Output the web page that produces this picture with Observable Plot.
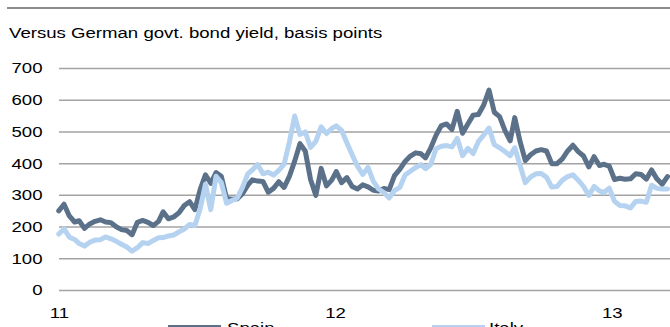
<!DOCTYPE html>
<html>
<head>
<meta charset="utf-8">
<script src="https://cdn.jsdelivr.net/npm/d3@7"></script>
<script src="https://cdn.jsdelivr.net/npm/@observablehq/plot@0.6"></script>
<style>
  html, body { margin: 0; padding: 0; background: #fff; }
  body { width: 670px; height: 327px; overflow: hidden; font-family: "Liberation Sans", Arial, sans-serif; color: #000; }
  #header { position: relative; height: 48px; }
  #rule { position: absolute; left: 7px; top: 7px; width: 663px; height: 0; border-top: 2px solid #8c8c8c; }
  #title { position: absolute; left: 9px; top: 23.6px; font-size: 15.5px; line-height: 17px; white-space: nowrap; transform: scaleX(1.2); transform-origin: 0 0; }
  #chart svg { display: block; overflow: visible; }
  #legend { position: relative; height: 20px; }
  .sw { position: absolute; top: 4.5px; height: 5px; width: 53px; }
  .lt { position: absolute; top: -1.2px; font-size: 15.5px; line-height: 17px; white-space: nowrap; transform: scaleX(1.2); transform-origin: 0 0; }
</style>
</head>
<body>
<div id="header"><div id="rule"></div><div id="title">Versus German govt. bond yield, basis points</div></div>
<div id="chart"></div>
<div id="legend"></div>
<script>
const titleText = "Versus German govt. bond yield, basis points";
const seriesNames = ["Spain", "Italy"];
const seriesColors = ["#5b7189", "#b5d3f0"];

const dates = [
  "2010-12-31","2011-01-07","2011-01-14","2011-01-21","2011-01-27","2011-02-03","2011-02-10","2011-02-17","2011-02-24","2011-03-03",
  "2011-03-10","2011-03-17","2011-03-24","2011-03-31","2011-04-07","2011-04-14","2011-04-21","2011-04-28","2011-05-05","2011-05-12",
  "2011-05-18","2011-05-25","2011-06-01","2011-06-08","2011-06-15","2011-06-22","2011-06-29","2011-07-06","2011-07-13","2011-07-20",
  "2011-07-27","2011-08-03","2011-08-10","2011-08-17","2011-08-24","2011-08-31","2011-09-07","2011-09-13","2011-09-20","2011-09-27",
  "2011-10-04","2011-10-11","2011-10-18","2011-10-25","2011-11-01","2011-11-08","2011-11-15","2011-11-22","2011-11-29","2011-12-06",
  "2011-12-13","2011-12-20","2011-12-27","2012-01-02","2012-01-09","2012-01-16","2012-01-23","2012-01-30","2012-02-06","2012-02-13",
  "2012-02-20","2012-02-27","2012-03-05","2012-03-12","2012-03-19","2012-03-26","2012-04-02","2012-04-09","2012-04-16","2012-04-23",
  "2012-04-29","2012-05-06","2012-05-13","2012-05-20","2012-05-27","2012-06-03","2012-06-10","2012-06-17","2012-06-24","2012-07-01",
  "2012-07-08","2012-07-15","2012-07-22","2012-07-29","2012-08-05","2012-08-12","2012-08-19","2012-08-25","2012-09-01","2012-09-08",
  "2012-09-15","2012-09-22","2012-09-29","2012-10-06","2012-10-13","2012-10-20","2012-10-27","2012-11-03","2012-11-10","2012-11-17",
  "2012-11-24","2012-12-01","2012-12-08","2012-12-15","2012-12-21","2012-12-28","2013-01-04","2013-01-11","2013-01-18","2013-01-25",
  "2013-02-01","2013-02-08","2013-02-15","2013-02-22","2013-03-01","2013-03-08","2013-03-15"
];

const spain = [
  251,272,235,216,220,196,210,218,223,216,
  214,201,192,189,176,215,221,215,205,218,
  248,226,232,245,268,280,255,318,365,338,
  372,360,290,288,289,305,332,349,345,344,
  310,322,343,325,360,408,463,440,350,300,
  385,330,348,375,340,356,328,320,333,327,
  316,314,322,318,362,382,407,424,434,431,
  418,450,490,520,525,508,565,496,525,553,
  555,585,632,562,548,505,472,545,470,410,
  428,440,444,440,400,400,415,440,458,438,
  424,390,422,394,398,392,350,354,351,352,
  368,366,351,380,352,335,359
];

const italy = [
  178,194,168,161,148,140,152,159,160,169,
  163,155,146,137,124,135,151,148,158,166,
  167,172,175,185,194,208,205,258,335,255,
  360,340,275,284,291,325,368,380,397,368,
  373,364,379,398,468,550,492,500,451,470,
  516,495,511,519,505,466,428,392,366,388,
  344,320,309,292,315,325,364,376,388,397,
  384,398,447,455,457,453,480,425,448,432,
  470,490,512,460,450,438,425,450,395,340,
  358,368,369,357,326,328,348,359,365,348,
  328,300,328,314,309,323,281,268,267,260,
  281,282,278,332,322,320,320
];

const yTicks = [0, 100, 200, 300, 400, 500, 600, 700];
const xTickDates = ["2011-01-01", "2012-01-01", "2013-01-01"];
const xTickLabels = ["11", "12", "13"];
const xDomain = ["2011-01-01", "2013-03-19"];

const rows = dates.map((d, i) => ({date: new Date(d), spain: spain[i], italy: italy[i]}));
const tickLabelByDate = new Map(xTickDates.map((d, i) => [d, xTickLabels[i]]));

document.getElementById("title").textContent = titleText;

const svg = Plot.plot({
  width: 670,
  height: 272,
  marginTop: 20,
  marginBottom: 30,
  marginLeft: 59,
  marginRight: 0,
  style: {fontFamily: "'Liberation Sans', Arial, sans-serif", fontSize: "15.5px", background: "transparent", color: "#000", overflow: "visible"},
  x: {
    type: "utc",
    domain: xDomain.map(d => new Date(d)),
    ticks: xTickDates.map(d => new Date(d)),
    tickFormat: d => tickLabelByDate.get(d.toISOString().slice(0, 10)),
    tickSize: 0,
    tickPadding: 16,
    label: null
  },
  y: {domain: [0, 700], ticks: yTicks, tickSize: 0, tickPadding: 17, label: null},
  marks: [
    Plot.ruleY(yTicks, {stroke: "#a3a3a3", strokeWidth: 1.5}),
    Plot.lineY(rows, {x: "date", y: "spain", stroke: seriesColors[0], strokeWidth: 5, strokeLinejoin: "round"}),
    Plot.lineY(rows, {x: "date", y: "italy", stroke: seriesColors[1], strokeWidth: 5, strokeLinejoin: "round"})
  ]
});

// widen tick label glyphs horizontally to match the reference's stretched text
svg.querySelectorAll("text").forEach(t => {
  const x = parseFloat(t.getAttribute("x") || "0") || 0;
  const tr = t.getAttribute("transform") || "";
  t.setAttribute("transform", `${tr} translate(${x},0) scale(1.2,1) translate(${-x},0)`.trim());
});

document.getElementById("chart").appendChild(svg);

const legend = document.getElementById("legend");
const swLeft = [168, 432];
const txtLeft = [227, 489];
seriesNames.forEach((name, i) => {
  const sw = document.createElement("div");
  sw.className = "sw";
  sw.style.left = swLeft[i] + "px";
  sw.style.background = seriesColors[i];
  legend.appendChild(sw);
  const t = document.createElement("span");
  t.className = "lt";
  t.style.left = txtLeft[i] + "px";
  t.textContent = name;
  legend.appendChild(t);
});
</script>
</body>
</html>
